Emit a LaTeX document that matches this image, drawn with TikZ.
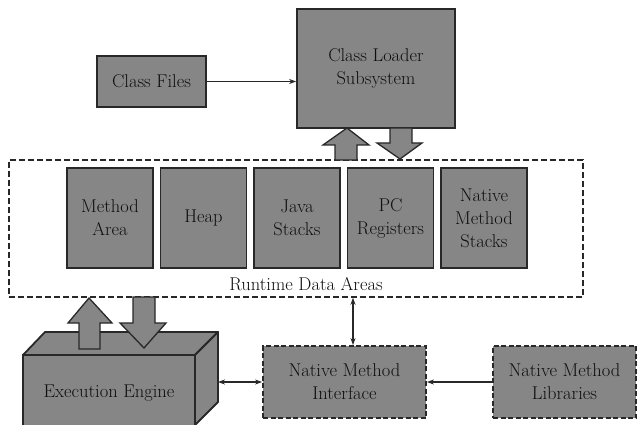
\documentclass[tikz,border=0pt]{standalone}
\usetikzlibrary{arrows.meta,calc}
\definecolor{boxgray}{RGB}{134,134,134}
\definecolor{edgecol}{RGB}{40,40,40}
\definecolor{inkcol}{RGB}{15,15,15}
\begin{document}
\begin{tikzpicture}[x=1pt,y=-1pt,
  txt/.style={text=inkcol,font=\rmfamily\fontsize{18.5}{23}\selectfont,align=center},
  box/.style={txt,draw=edgecol,line width=1.8pt,fill=boxgray,inner sep=0pt},
  nbox/.style={box,dash pattern=on 5pt off 2.5pt},
  area/.style={draw=edgecol,line width=1.5pt,dash pattern=on 6pt off 3pt,inner sep=0pt},
  conn/.style={draw=edgecol,line width=1.2pt,-{Stealth[length=7pt,width=5pt]}},
  dconn/.style={draw=edgecol,line width=1.2pt,{Stealth[length=7pt,width=5pt]}-{Stealth[length=7pt,width=5pt]}},
  blockarrow/.style={draw=edgecol,line width=1.3pt,fill=boxgray,line join=miter}
]
\clip (0,0) rectangle (637,425);
\fill[white] (0,0) rectangle (637,425);

% Top
\node[box,minimum width=109pt,minimum height=51pt] (cf) at (151.5,81.5) {Class Files};
\node[box,minimum width=158pt,minimum height=119pt] (cl) at (376,68.5) {Class Loader\\Subsystem};

% Runtime data areas
\node[area,minimum width=574pt,minimum height=137pt] (rda) at (296,228.5) {};
\node[txt] (rdalabel) at (306,284) {Runtime Data Areas};
\node[box,minimum width=86pt,minimum height=100pt] (ma) at (110,218) {Method\\Area};
\node[box,minimum width=86pt,minimum height=100pt] (heap) at (203.5,218) {Heap};
\node[box,minimum width=86pt,minimum height=100pt] (js) at (297,218) {Java\\Stacks};
\node[box,minimum width=86pt,minimum height=100pt] (pc) at (390.5,218) {PC\\Registers};
\node[box,minimum width=86pt,minimum height=100pt] (nms) at (484,218) {Native\\Method\\Stacks};

% Execution engine (3D box)
\fill[boxgray,draw=edgecol,line width=1.8pt,line join=round] (23,355) -- (45,332) -- (218,332) -- (195,355) -- cycle;
\fill[boxgray,draw=edgecol,line width=1.8pt,line join=round] (195,355) -- (218,332) -- (218,402) -- (195,425) -- cycle;
\node[box,minimum width=172pt,minimum height=76pt] (ee) at (109,393) {Execution Engine};

% Native method interface / libraries
\node[nbox,minimum width=163pt,minimum height=72pt] (nmi) at (344.5,382) {Native Method\\Interface};
\node[nbox,minimum width=143pt,minimum height=72pt] (nml) at (564.5,382) {Native Method\\Libraries};

% Block arrows between class loader and runtime data areas
\draw[blockarrow] (335,160) -- (335,145) -- (323,145) -- (347,128) -- (369,145) -- (357,145) -- (357,160) -- cycle;
\draw[blockarrow] (390,128) -- (390,143) -- (377,143) -- (400,159) -- (422,143) -- (412,143) -- (412,128) -- cycle;

% Block arrows between runtime data areas and execution engine
\draw[blockarrow] (79,349) -- (79,323) -- (68,323) -- (89,298) -- (112,323) -- (100,323) -- (100,349) -- cycle;
\draw[blockarrow] (133,297) -- (133,323) -- (120,323) -- (144,348) -- (166,323) -- (155,323) -- (155,297) -- cycle;

% Connectors
\coordinate (eer) at (218,382);
\draw[conn] (cf.east) -- (cf.east -| cl.west);
\draw[dconn] (rda.south -| 353,0) -- (nmi.north -| 353,0);
\draw[dconn] (eer) -- (nmi.west);
\draw[conn] (nml.west) -- (nmi.east);
\end{tikzpicture}
\end{document}
